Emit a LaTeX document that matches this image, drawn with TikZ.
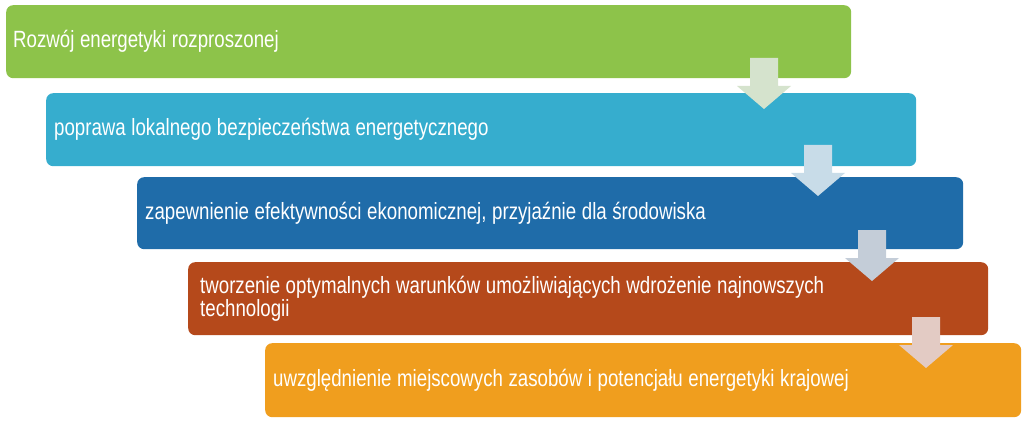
\documentclass[tikz,border=0pt]{standalone}
\usepackage{fontspec}
\setmainfont{Liberation Sans}[FakeStretch=0.795]
\newcommand\boxfont{\fontsize{23.5}{23}\selectfont}
\newcommand\tightsp{\spaceskip=5.6pt plus 0pt minus 0pt\relax\xspaceskip=5.6pt\relax}
\definecolor{cA}{HTML}{8DC34A}
\definecolor{cB}{HTML}{36ADCE}
\definecolor{cC}{HTML}{1F6CA9}
\definecolor{cD}{HTML}{B5491B}
\definecolor{cE}{HTML}{F09E1E}
\definecolor{aA}{HTML}{D5E3CD}
\definecolor{aB}{HTML}{C8DCE8}
\definecolor{aC}{HTML}{C4CDD8}
\definecolor{aD}{HTML}{E3CBC4}
\begin{document}
\begin{tikzpicture}[x=1pt,y=-1pt,
  stepbox/.style={rounded corners=7pt, anchor=north west, inner xsep=7pt, inner ysep=0pt,
    align=left, text=white, font=\boxfont, draw=none, execute at begin node=\tightsp}]
\useasboundingbox (0,0) rectangle (1023,425);
\node[stepbox, fill=cA, minimum width=845pt, minimum height=73pt, text width=831pt] (b1) at (6,5) {Rozwój energetyki rozproszonej};
\node[stepbox, fill=cB, minimum width=870pt, minimum height=73pt, text width=854pt, inner xsep=8pt] (b2) at (46,93) {poprawa lokalnego bezpieczeństwa energetycznego};
\node[stepbox, fill=cC, minimum width=826pt, minimum height=72pt, text width=810pt, inner xsep=8pt] (b3) at (137,177) {zapewnienie efektywności ekonomicznej, przyjaźnie dla środowiska};
\node[stepbox, fill=cD, minimum width=800pt, minimum height=73pt, text width=776pt, inner xsep=12pt] (b4) at (188,262) {tworzenie optymalnych warunków umożliwiających wdrożenie najnowszych\\technologii};
\node[stepbox, fill=cE, minimum width=756pt, minimum height=74pt, text width=740pt, inner xsep=8pt] (b5) at (265,343) {uwzględnienie miejscowych zasobów i potencjału energetyki krajowej};
\foreach \cx/\ty/\col in {764/58/aA, 818/145/aB, 872/230/aC, 926/317/aD}{
  \fill[\col] (\cx-14,\ty) -- (\cx+14,\ty) -- (\cx+14,\ty+28) -- (\cx+27,\ty+28)
    -- (\cx,\ty+51) -- (\cx-27,\ty+28) -- (\cx-14,\ty+28) -- cycle;
}
\end{tikzpicture}
\end{document}
